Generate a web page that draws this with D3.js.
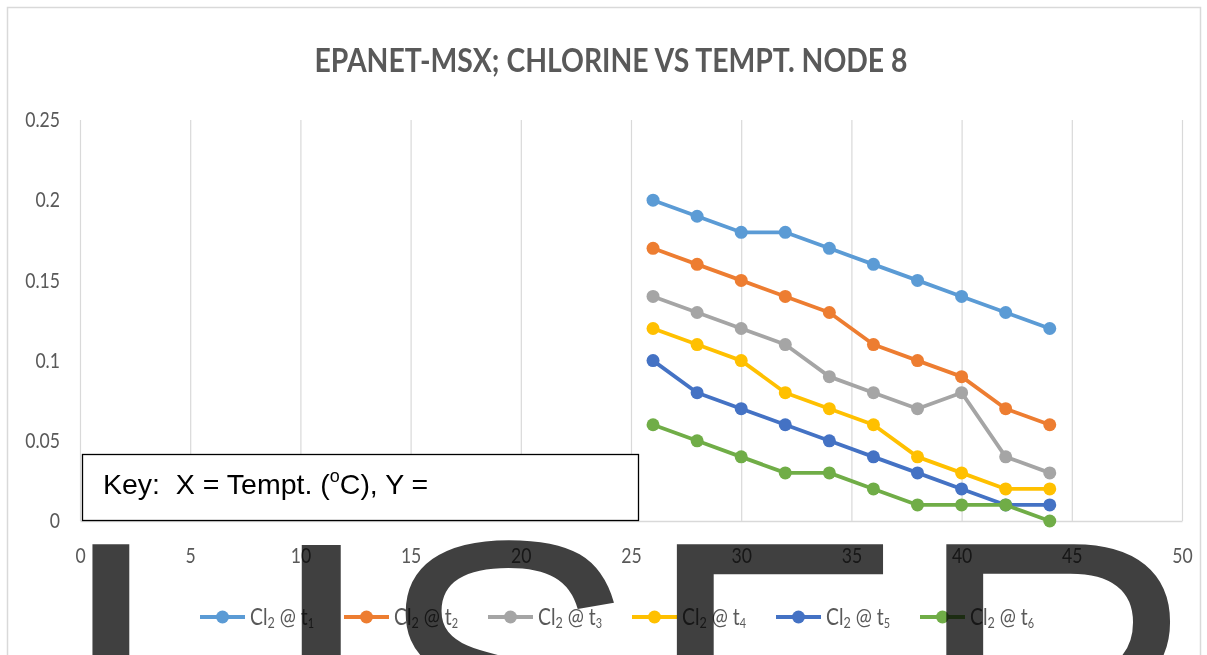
<!DOCTYPE html>
<html>
<head>
<meta charset="utf-8">
<script src="https://cdn.jsdelivr.net/npm/d3@7"></script>
<style>
  html, body { margin: 0; padding: 0; background: #fff; }
  svg { display: block; }
</style>
</head>
<body>
<svg width="1207" height="655"></svg>
<script>
// ---- data ----
const temps = [26, 28, 30, 32, 34, 36, 38, 40, 42, 44];
const cl_t1 = [0.20, 0.19, 0.18, 0.18, 0.17, 0.16, 0.15, 0.14, 0.13, 0.12];
const cl_t2 = [0.17, 0.16, 0.15, 0.14, 0.13, 0.11, 0.10, 0.09, 0.07, 0.06];
const cl_t3 = [0.14, 0.13, 0.12, 0.11, 0.09, 0.08, 0.07, 0.08, 0.04, 0.03];
const cl_t4 = [0.12, 0.11, 0.10, 0.08, 0.07, 0.06, 0.04, 0.03, 0.02, 0.02];
const cl_t5 = [0.10, 0.08, 0.07, 0.06, 0.05, 0.04, 0.03, 0.02, 0.01, 0.01];
const cl_t6 = [0.06, 0.05, 0.04, 0.03, 0.03, 0.02, 0.01, 0.01, 0.01, 0.00];
const seriesSubs = ["1", "2", "3", "4", "5", "6"];
const xTicks = [0, 5, 10, 15, 20, 25, 30, 35, 40, 45, 50];
const yTicks = [0, 0.05, 0.1, 0.15, 0.2, 0.25];
const yTickLabels = ["0", "0.05", "0.1", "0.15", "0.2", "0.25"];

const colors = ["#5B9BD5", "#ED7D31", "#A5A5A5", "#FFC000", "#4472C4", "#70AD47"];
const series = [cl_t1, cl_t2, cl_t3, cl_t4, cl_t5, cl_t6].map((vals, i) => ({
  sub: seriesSubs[i],
  color: colors[i],
  points: temps.map((t, j) => ({ x: t, y: vals[j] }))
}));

let svg = d3.select("svg"),
    plotL = 80, plotR = 1182, plotT = 120, plotB = 521,
    txtFont = "Lato, 'Open Sans', sans-serif",
    txtGray = "#595959",
    sx = 0.84;   // narrow look of the original labels

let x = d3.scaleLinear().domain([0, 50]).range([plotL, plotR]),
    y = d3.scaleLinear().domain([0, 0.25]).range([plotB, plotT]);

// chart frame
svg.append("rect")
  .attr("x", 7.5).attr("y", 7.5)
  .attr("width", 1193).attr("height", 700)
  .attr("fill", "#fff")
  .attr("stroke", "#d9d9d9").attr("stroke-width", 1.5);

// title
svg.append("text")
  .attr("x", 611).attr("y", 72)
  .attr("text-anchor", "middle")
  .attr("font-family", txtFont)
  .attr("font-weight", "bold")
  .attr("font-size", 32)
  .attr("fill", txtGray)
  .attr("textLength", 593)
  .attr("lengthAdjust", "spacingAndGlyphs")
  .text("EPANET-MSX; CHLORINE VS TEMPT. NODE 8");

// vertical gridlines
let grid = svg.append("g")
  .attr("transform", "translate(0," + plotB + ")")
  .call(d3.axisBottom(x).tickValues(xTicks).tickSize(-(plotB - plotT)).tickFormat(""));
grid.select(".domain").remove();
grid.selectAll("line").attr("stroke", "#d9d9d9").attr("stroke-width", 1.2);

// x axis
let gx = svg.append("g")
  .attr("transform", "translate(0," + plotB + ")")
  .call(d3.axisBottom(x).tickValues(xTicks).tickSize(0).tickPadding(27));
gx.select(".domain").attr("stroke", "#d9d9d9").attr("stroke-width", 1.5);
gx.selectAll("text")
  .attr("font-family", txtFont).attr("font-size", 21).attr("fill", txtGray)
  .attr("transform", "scale(" + sx + ",1)");

// y axis
let gy = svg.append("g")
  .attr("transform", "translate(" + plotL + ",0)")
  .call(d3.axisLeft(y).tickValues(yTicks).tickFormat((d, i) => yTickLabels[i]).tickSize(0).tickPadding(20));
gy.select(".domain").remove();
gy.selectAll("text")
  .attr("font-family", txtFont).attr("font-size", 21).attr("fill", txtGray)
  .attr("x", -20 / sx)
  .attr("transform", "scale(" + sx + ",1)");

// key box
svg.append("rect")
  .attr("x", 82.5).attr("y", 454.5)
  .attr("width", 556).attr("height", 66)
  .attr("fill", "#fff").attr("stroke", "#000").attr("stroke-width", 1.3);
let key = svg.append("text")
  .attr("x", 103).attr("y", 494)
  .attr("font-family", "'Liberation Sans', Arial, sans-serif")
  .attr("font-size", 28.5)
  .attr("fill", "#000")
  .attr("xml:space", "preserve");
key.append("tspan").text("Key:  X = Tempt. (");
key.append("tspan").attr("font-size", 18).attr("dy", -12).text("o");
key.append("tspan").attr("dy", 12).text("C), Y =");

// lines + markers
let line = d3.line().x(d => x(d.x)).y(d => y(d.y));
let sg = svg.selectAll(".series").data(series).enter().append("g").attr("class", "series");
sg.append("path")
  .attr("d", d => line(d.points))
  .attr("fill", "none")
  .attr("stroke", d => d.color)
  .attr("stroke-width", 3.8)
  .attr("stroke-linejoin", "round");
sg.selectAll("circle")
  .data(d => d.points.map(p => ({ p: p, color: d.color })))
  .enter().append("circle")
  .attr("cx", d => x(d.p.x))
  .attr("cy", d => y(d.p.y))
  .attr("r", 6.5)
  .attr("fill", d => d.color);

// legend
let lg = svg.selectAll(".legend").data(series).enter().append("g")
  .attr("class", "legend")
  .attr("transform", (d, i) => "translate(" + (200 + i * 144) + ",617)");
lg.append("line")
  .attr("x1", 0).attr("x2", 45)
  .attr("stroke", d => d.color).attr("stroke-width", 3.8);
lg.append("circle")
  .attr("cx", 22.5).attr("r", 6.5)
  .attr("fill", d => d.color);
let lt = lg.append("text")
  .attr("x", 50 / sx).attr("y", 8)
  .attr("transform", "scale(" + sx + ",1)")
  .attr("font-family", txtFont).attr("font-size", 23).attr("fill", txtGray);
lt.append("tspan").text("Cl");
lt.append("tspan").attr("font-size", 15).attr("dy", 3).text("2");
lt.append("tspan").attr("dy", -3).text(" @ t");
lt.append("tspan").attr("font-size", 13).attr("dy", 3).text(d => d.sub);

// watermark (multiplied over the chart)
let wm = svg.append("text")
  .attr("font-family", "'Liberation Sans', Arial, sans-serif")
  .attr("font-size", 395)
  .attr("letter-spacing", 6)
  .attr("fill", "#404040")
  .style("mix-blend-mode", "multiply");
wm.append("tspan").attr("x", 56).attr("y", 816).text("I");
wm.append("tspan").attr("x", 263).attr("y", 833)
  .attr("font-family", "'DejaVu Sans', sans-serif").text("J");
wm.append("tspan").attr("x", 375).attr("y", 816).text("SER");
</script>
</body>
</html>
